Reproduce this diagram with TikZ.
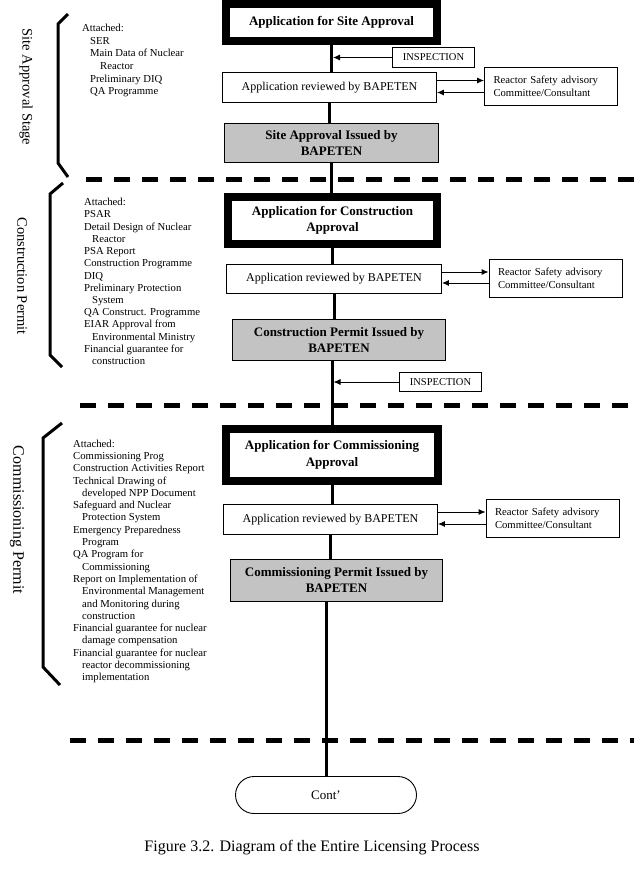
\documentclass[tikz,border=0pt]{standalone}
\usepackage{fontspec}
\setmainfont{Liberation Serif}
\usetikzlibrary{arrows.meta}
\definecolor{boxgray}{RGB}{195,195,195}
\begin{document}
\begin{tikzpicture}[x=1pt,y=-1pt,
  thickbox/.style={draw, line width=8pt, fill=white, inner sep=0pt, align=center,
    font=\fontsize{13}{16.5}\selectfont\bfseries},
  reviewbox/.style={draw, line width=0.9pt, fill=white, inner sep=0pt, align=center,
    font=\fontsize{12}{14}\selectfont},
  graybox/.style={draw, line width=0.9pt, fill=boxgray, inner sep=0pt, align=center,
    font=\fontsize{13}{16}\selectfont\bfseries},
  advbox/.style={draw, line width=0.9pt, inner xsep=9pt, inner ysep=0pt, text width=115pt,
    align=left, minimum height=38pt, font=\fontsize{10.7}{12.5}\selectfont},
  inspbox/.style={draw, line width=0.9pt, inner sep=0pt, minimum width=82pt, minimum height=20pt,
    font=\fontsize{10.5}{12}\selectfont},
  contbox/.style={draw, line width=0.9pt, rounded corners=18.5pt, minimum width=181pt,
    minimum height=37pt, inner sep=0pt, font=\fontsize{13}{15}\selectfont},
  mainline/.style={line width=3pt},
  arr/.style={line width=0.9pt, -{Latex[length=7pt,width=6pt]}},
  sepline/.style={line width=5pt, dash pattern=on 16pt off 12pt},
  bracket/.style={line width=3pt},
  stagelabel/.style={rotate=-90, inner sep=0pt, font=\fontsize{14.5}{16}\selectfont},
  attlist/.style={anchor=north west, inner sep=0pt, align=left},
]
\useasboundingbox[fill=white] (0,0) rectangle (633,876);

% separators
\draw[sepline] (86,179) -- (640,179);
\draw[sepline] (80,405) -- (640,405);
\draw[sepline] (70,740) -- (640,740);

% brackets
\draw[bracket] (68,14) -- (58,24) -- (58,163) -- (68,177);
\draw[bracket] (63,183) -- (50,194) -- (50,355) -- (62,367);
\draw[bracket] (62,423) -- (43,438) -- (43,667) -- (60,685);

% stage labels
\node[stagelabel] (l1) at (26,87) {Site Approval Stage};
\node[stagelabel] (l2) at (22,276) {Construction Permit};
\node[stagelabel, font=\fontsize{16}{18}\selectfont] (l3) at (17,520) {Commissioning Permit};

% attachment lists
\node[attlist, font=\fontsize{10.7}{12.6}\selectfont] (t1) at (82,24)
  {Attached:\\\hspace*{8pt}SER\\\hspace*{8pt}Main Data of Nuclear\\\hspace*{18pt}Reactor\\
   \hspace*{8pt}Preliminary DIQ\\\hspace*{8pt}QA Programme};
\node[attlist, font=\fontsize{10.7}{12.23}\selectfont] (t2) at (84,198)
  {Attached:\\PSAR\\Detail Design of  Nuclear\\\hspace*{8pt}Reactor\\PSA Report\\
   Construction Programme\\DIQ\\Preliminary Protection\\\hspace*{8pt}System\\
   QA Construct. Programme\\EIAR Approval from\\\hspace*{8pt}Environmental Ministry\\
   Financial guarantee for\\\hspace*{8pt}construction};
\node[attlist, font=\fontsize{10.7}{12.3}\selectfont] (t3) at (73,439.5)
  {Attached:\\Commissioning Prog\\Construction Activities Report\\Technical Drawing  of\\
   \hspace*{9pt}developed NPP Document\\Safeguard and Nuclear\\\hspace*{9pt}Protection System\\
   Emergency Preparedness\\\hspace*{9pt}Program\\QA Program for\\\hspace*{9pt}Commissioning\\
   Report on Implementation of\\\hspace*{9pt}Environmental Management\\
   \hspace*{9pt}and Monitoring during\\\hspace*{9pt}construction\\
   Financial guarantee for nuclear\\\hspace*{9pt}damage compensation\\
   Financial guarantee for nuclear\\\hspace*{9pt}reactor decommissioning\\
   \hspace*{9pt}implementation};

% stage 1
\node[thickbox, minimum width=211pt, minimum height=37pt] (b1) at (331.5,22.5)
  {Application for Site Approval};
\node[inspbox] (i1) at (433.5,57.5) {INSPECTION};
\node[reviewbox, minimum width=214pt, minimum height=30pt] (r1) at (329.5,87.5)
  {Application reviewed by BAPETEN};
\node[advbox] (c1) at (551,86.5) {Reactor Safety advisory\\Committee/Consultant};
\node[graybox, minimum width=214pt, minimum height=39pt] (g1) at (331.5,143)
  {Site Approval Issued by\\BAPETEN};

% stage 2
\node[thickbox, minimum width=209pt, minimum height=47pt] (b2) at (332.5,220.5)
  {Application for Construction\\Approval};
\node[reviewbox, minimum width=215pt, minimum height=29pt] (r2) at (334,279)
  {Application reviewed  by BAPETEN};
\node[advbox] (c2) at (555.5,278.5) {Reactor Safety advisory\\Committee/Consultant};
\node[graybox, minimum width=213pt, minimum height=41pt] (g2) at (339,340)
  {Construction Permit Issued by\\BAPETEN};
\node[inspbox, minimum height=19pt] (i2) at (440.5,382) {INSPECTION};

% stage 3
\node[thickbox, minimum width=212pt, minimum height=52pt] (b3) at (332,455)
  {Application for Commissioning\\Approval};
\node[reviewbox, minimum width=214pt, minimum height=30pt] (r3) at (330.5,519.5)
  {Application reviewed by BAPETEN};
\node[advbox] (c3) at (552.5,518.5) {Reactor Safety advisory\\Committee/Consultant};
\node[graybox, minimum width=212pt, minimum height=42pt] (g3) at (336.5,580.5)
  {Commissioning Permit Issued by\\BAPETEN};

\node[contbox] (cont) at (326,795) {Cont'};

% main flow line
\draw[mainline] (b1.south) -- (b1.south |- r1.north);
\draw[mainline] (r1.south) -- (r1.south |- g1.north);
\draw[mainline] (g1.south) -- (g1.south |- b2.north);
\draw[mainline] (b2.south) -- (b2.south |- r2.north);
\draw[mainline] (r2.south) -- (r2.south |- g2.north);
\draw[mainline] (b3.north |- g2.south) -- (b3.north);
\draw[mainline] (b3.south) -- (b3.south |- r3.north);
\draw[mainline] (r3.south) -- (r3.south |- g3.north);
\draw[mainline] (cont.north |- g3.south) -- (cont.north);

% inspection arrows
\draw[arr, shorten >=1.5pt] (i1.west) -- (i1.west -| b1.south);
\draw[arr, shorten >=1.5pt] (i2.west) -- (i2.west -| b3.north);

% advisory arrows
\draw[arr] ([yshift=7pt]r1.east) -- ([yshift=7pt]r1.east -| c1.west);
\draw[arr] ([yshift=-5pt]r1.east -| c1.west) -- ([yshift=-5pt]r1.east);
\draw[arr] ([yshift=7pt]r2.east) -- ([yshift=7pt]r2.east -| c2.west);
\draw[arr] ([yshift=-4pt]r2.east -| c2.west) -- ([yshift=-4pt]r2.east);
\draw[arr] ([yshift=7.5pt]r3.east) -- ([yshift=7.5pt]r3.east -| c3.west);
\draw[arr] ([yshift=-4.5pt]r3.east -| c3.west) -- ([yshift=-4.5pt]r3.east);

% caption
\node[font=\fontsize{16}{18}\selectfont] (cap) at (312,848)
  {Figure 3.2. Diagram of the Entire Licensing Process};
\end{tikzpicture}
\end{document}
